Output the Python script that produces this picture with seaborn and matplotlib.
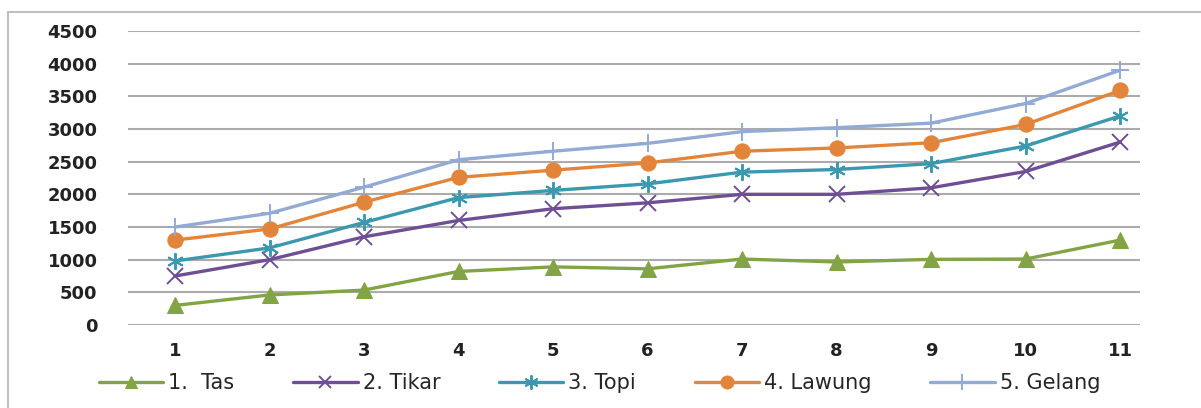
import matplotlib
matplotlib.use("Agg")
import matplotlib.pyplot as plt
import seaborn as sns
from matplotlib.patches import Rectangle

categories = [1, 2, 3, 4, 5, 6, 7, 8, 9, 10, 11]
tas = [300, 460, 535, 820, 890, 860, 1010, 965, 1005, 1010, 1300]
tikar = [750, 1000, 1350, 1600, 1780, 1870, 2000, 2000, 2100, 2350, 2800]
topi = [980, 1180, 1570, 1950, 2060, 2160, 2340, 2380, 2470, 2740, 3200]
lawung = [1300, 1470, 1880, 2260, 2370, 2480, 2660, 2710, 2790, 3070, 3590]
gelang = [1500, 1710, 2110, 2530, 2660, 2780, 2960, 3020, 3090, 3390, 3900]
series_names = ["1.  Tas", "2. Tikar", "3. Topi", "4. Lawung", "5. Gelang"]
y_ticks = [0, 500, 1000, 1500, 2000, 2500, 3000, 3500, 4000, 4500]

sns.set_style("white")
plt.rcParams["font.family"] = ["DejaVu Sans"]

fig = plt.figure(figsize=(12.01, 4.08), dpi=100)
ax = fig.add_axes([0.1066, 0.2034, 0.8426, 0.7206])

# outer chart border
fig.patches.append(Rectangle((0.007, -0.1), 1.1, 1.0706, transform=fig.transFigure,
                             fill=False, edgecolor="#BFBFBF", linewidth=1.5, zorder=0))

styles = [
    (tas, "#82A444", "^", dict(markersize=11)),
    (tikar, "#6E4F94", "x", dict(markersize=11, markeredgewidth=1.4)),
    (topi, "#3B98AE", (6, 2, 0), dict(markersize=12, markeredgewidth=1.4)),
    (lawung, "#E2853B", "o", dict(markersize=11)),
    (gelang, "#93AAD5", "+", dict(markersize=13, markeredgewidth=1.4)),
]

for (vals, color, mk, kw), name in zip(styles, series_names):
    sns.lineplot(x=categories, y=vals, ax=ax, color=color, marker=mk,
                 markeredgecolor=color, linewidth=2.4, label=name, **kw)

ax.set_xlim(0.503, 11.21)
ax.set_ylim(0, 4500)
ax.set_yticks(y_ticks)
ax.set_xticks(categories)
ax.set_xticklabels([str(c) for c in categories])
ax.grid(axis="y", color="#ABABAB", linewidth=1.5)
ax.set_axisbelow(True)
for s in ax.spines.values():
    s.set_visible(False)
ax.tick_params(axis="both", length=0, labelsize=13, colors="#222222")
ax.tick_params(axis="y", pad=22)
ax.tick_params(axis="x", pad=12)
for lbl in ax.get_xticklabels() + ax.get_yticklabels():
    lbl.set_fontweight("bold")

leg = ax.legend(loc="center", bbox_to_anchor=(0.466, -0.197), ncol=5,
                frameon=False, fontsize=15, handlelength=3.1, columnspacing=2.8,
                handletextpad=0.25, markerscale=0.85)

fig.savefig("out.png", dpi=100)
